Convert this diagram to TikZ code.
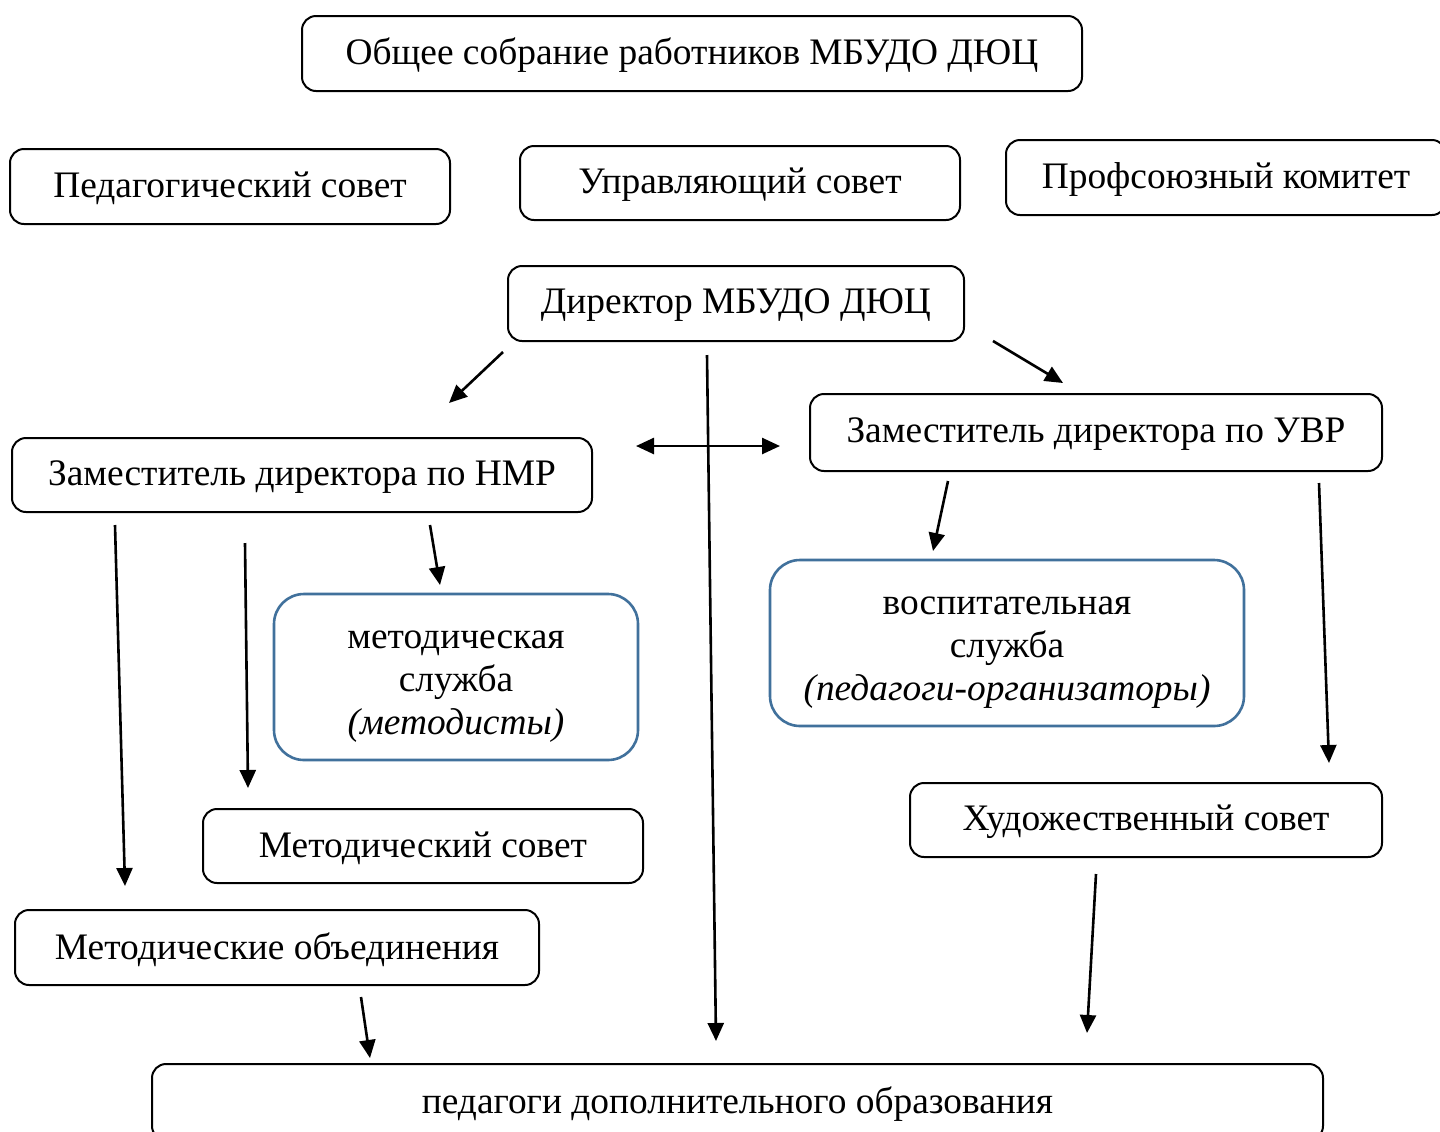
\documentclass[tikz,border=0pt]{standalone}
\usepackage{fontspec}
\setmainfont{Liberation Serif}
\usetikzlibrary{arrows.meta}
\definecolor{bluebord}{HTML}{41719C}
\newcommand{\blk}[1]{\raisebox{-2.7pt}[\height][\depth]{\begin{tabular}{@{}c@{}}#1\end{tabular}}}
\newcommand{\tx}[1]{\raisebox{-1pt}[\height][\depth]{#1}}
\begin{document}
\begin{tikzpicture}[x=0.5pt,y=-0.5pt,
  box/.style={draw=black, line width=1pt, rounded corners=7pt, inner sep=0pt, align=center, font=\fontsize{18.7}{21.5}\selectfont},
  bluebox/.style={draw=bluebord, line width=1.3pt, rounded corners=15pt, inner sep=0pt, align=center, font=\fontsize{18.7}{21.5}\selectfont},
  arr/.style={line width=1.3pt, -{Triangle[length=9pt,width=8pt]}},
  darr/.style={line width=1.3pt, {Triangle[length=9pt,width=8pt]}-{Triangle[length=9pt,width=8pt]}}]
\useasboundingbox[fill=white] (0,0) rectangle (1440,1131);
\node[box, minimum width=390pt, minimum height=37.5pt] (obs) at (692,53.5) {\tx{Общее собрание работников МБУДО ДЮЦ}};
\node[box, minimum width=220pt, minimum height=37.5pt] (ped) at (230,186.5) {\tx{Педагогический совет}};
\node[box, minimum width=220pt, minimum height=37pt] (upr) at (740,183) {\tx{Управляющий совет}};
\node[box, minimum width=220pt, minimum height=37.5pt] (prof) at (1226,177.5) {\tx{Профсоюзный комитет}};
\node[box, minimum width=228pt, minimum height=37.5pt] (dir) at (736,303.5) {\tx{Директор МБУДО ДЮЦ}};
\node[box, minimum width=290pt, minimum height=37pt] (nmr) at (302,475) {\tx{Заместитель директора по НМР}};
\node[box, minimum width=286pt, minimum height=38.5pt] (uvr) at (1096,432.5) {\tx{Заместитель директора по УВР}};
\node[bluebox, minimum width=182pt, minimum height=83pt] (met) at (456,677) {\blk{методическая\\служба\\\textit{(методисты)}}};
\node[bluebox, minimum width=237pt, minimum height=83pt] (vos) at (1007,643) {\blk{воспитательная\\служба\\\textit{(педагоги-организаторы)}}};
\node[box, minimum width=220pt, minimum height=37pt] (metsov) at (423,846) {\tx{Методический совет}};
\node[box, minimum width=236pt, minimum height=37pt] (hud) at (1146,820) {\tx{Художественный совет}};
\node[box, minimum width=262pt, minimum height=37.5pt] (mo) at (277,947.5) {\tx{Методические объединения}};
\node[box, minimum width=585.5pt, minimum height=38pt] (pdo) at (737.5,1102) {\tx{педагоги дополнительного образования}};
% arrow end points
\coordinate (a1s) at (503,352); \coordinate (a1e) at (449,403);
\coordinate (a2s) at (707,355); \coordinate (a2e) at (716,1041);
\coordinate (a3s) at (993,341); \coordinate (a3e) at (1063,383);
\coordinate (a4s) at (636,446); \coordinate (a4e) at (780,446);
\coordinate (a5s) at (115,525); \coordinate (a5e) at (125,886);
\coordinate (a6s) at (245,543); \coordinate (a6e) at (248,788);
\coordinate (a7s) at (430,525); \coordinate (a7e) at (440,585);
\coordinate (a8s) at (948,481); \coordinate (a8e) at (933,551);
\coordinate (a9s) at (1319,483); \coordinate (a9e) at (1329,763);
\coordinate (a10s) at (1096,874); \coordinate (a10e) at (1087,1033);
\coordinate (a11s) at (361,997); \coordinate (a11e) at (370,1058);
\draw[arr] (a1s) -- (a1e);
\draw[arr] (a2s) -- (a2e);
\draw[arr] (a3s) -- (a3e);
\draw[darr] (a4s) -- (a4e);
\draw[arr] (a5s) -- (a5e);
\draw[arr] (a6s) -- (a6e);
\draw[arr] (a7s) -- (a7e);
\draw[arr] (a8s) -- (a8e);
\draw[arr] (a9s) -- (a9e);
\draw[arr] (a10s) -- (a10e);
\draw[arr] (a11s) -- (a11e);
\end{tikzpicture}
\end{document}
